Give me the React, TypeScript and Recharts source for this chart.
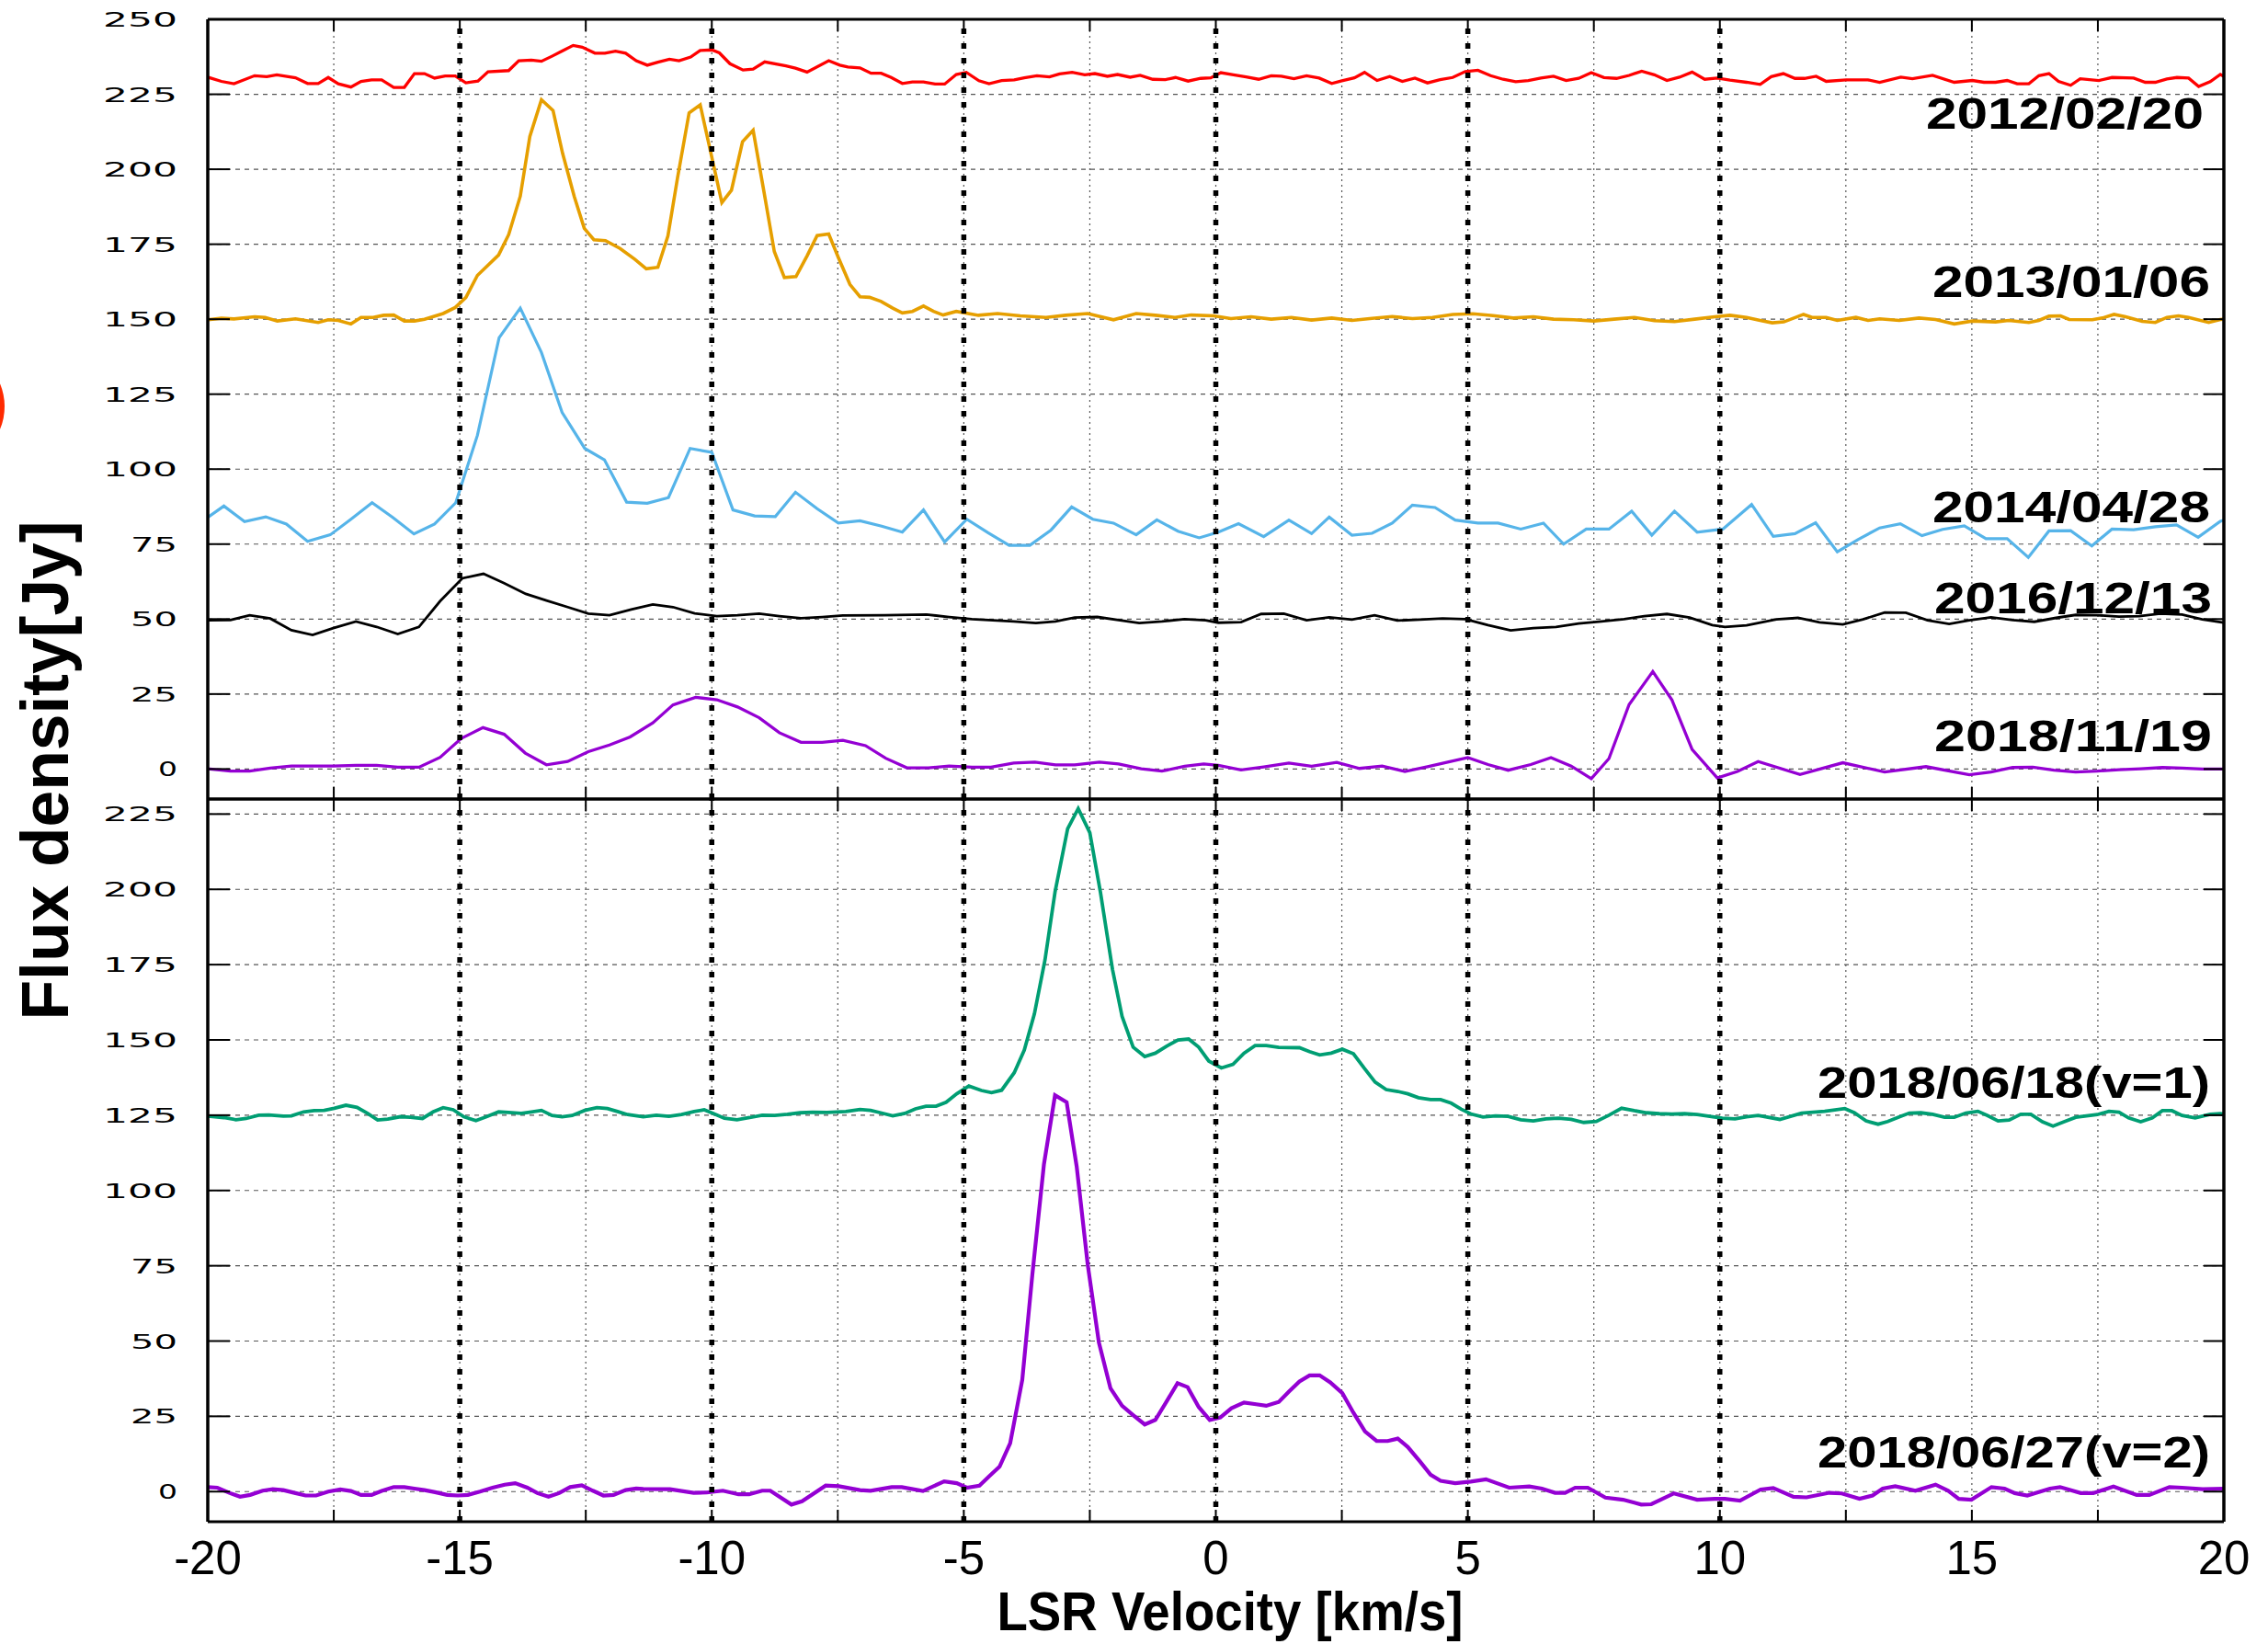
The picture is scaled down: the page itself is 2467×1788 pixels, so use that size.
import { LineChart, Line, XAxis, YAxis, CartesianGrid, ReferenceLine } from "recharts"

type Pt = [number, number]

// velocity [km/s], flux density [Jy]
const velocityTicks = [-20, -17.5, -15, -12.5, -10, -7.5, -5, -2.5, 0, 2.5, 5, 7.5, 10, 12.5, 15, 17.5, 20]
const upperFluxTicks = [0, 25, 50, 75, 100, 125, 150, 175, 200, 225, 250]
const lowerFluxTicks = [0, 25, 50, 75, 100, 125, 150, 175, 200, 225]
const markerVelocities = [-15, -10, -5, 0, 5, 10]

const flux20120220: Pt[] = [
  [-20, 230.7], [-19.73, 229.3], [-19.48, 228.5], [-19.07, 231.2], [-18.83, 230.9], [-18.63, 231.5], [-18.26, 230.5],
  [-18.02, 228.6], [-17.81, 228.6], [-17.61, 230.6], [-17.41, 228.5], [-17.16, 227.4], [-16.96, 229.3], [-16.75, 229.8],
  [-16.55, 229.8], [-16.31, 227.3], [-16.1, 227.3], [-15.9, 231.9], [-15.7, 231.9], [-15.5, 230.4], [-15.29, 231.1],
  [-15.09, 231.1], [-14.88, 228.8], [-14.64, 229.4], [-14.44, 232.5], [-14.03, 232.9], [-13.83, 236.2], [-13.58, 236.4],
  [-13.38, 236.0], [-13.17, 237.7], [-12.97, 239.4], [-12.75, 241.3], [-12.57, 240.7], [-12.32, 238.7], [-12.12, 238.7],
  [-11.91, 239.4], [-11.71, 238.7], [-11.5, 236.2], [-11.28, 234.7], [-11.07, 235.7], [-10.84, 236.7], [-10.65, 236.2],
  [-10.42, 237.4], [-10.23, 239.6], [-10.0, 239.8], [-9.85, 238.8], [-9.64, 235.2], [-9.38, 233.1], [-9.18, 233.4],
  [-8.95, 235.8], [-8.53, 234.5], [-8.34, 233.7], [-8.11, 232.4], [-7.68, 236.2], [-7.46, 234.7], [-7.3, 234.1],
  [-7.06, 233.8], [-6.84, 232.0], [-6.64, 232.0], [-6.44, 230.6], [-6.22, 228.6], [-6.02, 229.1], [-5.8, 229.1],
  [-5.57, 228.4], [-5.38, 228.4], [-5.15, 231.6], [-4.95, 232.3], [-4.7, 229.5], [-4.5, 228.5], [-4.25, 229.6],
  [-4.0, 229.8], [-3.8, 230.5], [-3.55, 231.2], [-3.3, 230.8], [-3.1, 231.8], [-2.85, 232.3], [-2.6, 231.5],
  [-2.4, 231.9], [-2.15, 231.0], [-1.95, 231.6], [-1.7, 230.7], [-1.5, 231.3], [-1.25, 230.0], [-1.0, 229.9],
  [-0.8, 230.6], [-0.55, 229.4], [-0.3, 230.3], [-0.1, 230.5], [0.1, 232.2], [0.35, 231.5], [0.6, 230.8],
  [0.85, 230.0], [1.1, 231.2], [1.3, 231.0], [1.55, 230.2], [1.8, 231.2], [2.05, 230.4], [2.3, 228.6], [2.5, 229.5],
  [2.75, 230.5], [2.95, 232.3], [3.2, 229.6], [3.45, 230.9], [3.7, 229.3], [3.95, 230.4], [4.2, 228.8], [4.45, 229.9],
  [4.7, 230.6], [4.95, 232.6], [5.2, 233.0], [5.45, 231.2], [5.7, 230.0], [5.95, 229.2], [6.2, 229.6], [6.45, 230.4],
  [6.7, 231.0], [6.95, 229.6], [7.2, 230.3], [7.45, 232.2], [7.7, 230.6], [7.95, 230.3], [8.2, 231.3], [8.45, 232.7],
  [8.7, 231.5], [8.95, 229.6], [9.2, 230.7], [9.45, 232.4], [9.7, 230.0], [9.95, 230.4], [10.2, 229.7], [10.53, 229.0],
  [10.8, 228.3], [11.02, 230.9], [11.26, 231.9], [11.49, 230.3], [11.68, 230.3], [11.91, 231.0], [12.11, 229.3],
  [12.51, 229.8], [12.94, 229.8], [13.17, 229.0], [13.59, 230.7], [13.82, 230.2], [14.22, 231.3], [14.65, 229.0],
  [15.01, 229.6], [15.24, 229.0], [15.47, 229.0], [15.7, 229.6], [15.9, 228.5], [16.13, 228.5], [16.33, 231.2],
  [16.53, 231.9], [16.72, 229.3], [16.96, 228.0], [17.15, 230.2], [17.52, 229.6], [17.78, 230.6], [18.21, 230.4],
  [18.44, 229.0], [18.64, 229.0], [18.87, 230.1], [19.07, 230.6], [19.3, 230.4], [19.5, 227.6], [19.73, 229.2],
  [19.93, 231.6], [20, 231.0],
]

const flux20130106: Pt[] = [
  [-20, 149.8], [-19.73, 150.3], [-19.48, 150.1], [-19.07, 150.8], [-18.86, 150.6], [-18.62, 149.4], [-18.26, 150.1],
  [-17.81, 148.9], [-17.61, 149.8], [-17.41, 149.6], [-17.16, 148.4], [-16.96, 150.6], [-16.72, 150.6], [-16.51, 151.3],
  [-16.31, 151.4], [-16.1, 149.4], [-15.9, 149.4], [-15.7, 150.0], [-15.33, 151.9], [-15.09, 153.9], [-14.88, 157.2],
  [-14.65, 164.6], [-14.23, 171.4], [-14.03, 178.2], [-13.8, 191.0], [-13.61, 210.9], [-13.38, 223.2], [-13.15, 219.6],
  [-12.96, 205.3], [-12.73, 191.0], [-12.53, 180.3], [-12.34, 176.5], [-12.11, 176.2], [-11.82, 173.6], [-11.53, 170.0],
  [-11.3, 166.8], [-11.07, 167.3], [-10.87, 177.8], [-10.68, 197.1], [-10.45, 218.8], [-10.23, 221.5], [-9.8, 188.9],
  [-9.61, 193.0], [-9.39, 209.2], [-9.18, 213.0], [-8.96, 192.0], [-8.76, 172.6], [-8.56, 163.9], [-8.33, 164.2],
  [-8.11, 171.1], [-7.91, 177.9], [-7.68, 178.4], [-7.49, 170.6], [-7.26, 161.6], [-7.06, 157.5], [-6.87, 157.3],
  [-6.64, 155.9], [-6.41, 153.7], [-6.22, 152.1], [-6.02, 152.6], [-5.8, 154.4], [-5.6, 152.6], [-5.41, 151.4],
  [-5.15, 152.6], [-4.71, 151.3], [-4.33, 151.9], [-3.88, 151.1], [-3.37, 150.6], [-2.98, 151.3], [-2.54, 151.9],
  [-2.03, 149.8], [-1.58, 151.9], [-1.2, 151.3], [-0.81, 150.6], [-0.49, 151.4], [-0.04, 151.1], [0.3, 150.2],
  [0.7, 150.8], [1.1, 150.0], [1.5, 150.6], [1.9, 149.7], [2.3, 150.4], [2.7, 149.6], [3.1, 150.3], [3.5, 150.9],
  [3.9, 150.2], [4.3, 150.6], [4.7, 151.6], [5.1, 151.8], [5.5, 151.2], [5.9, 150.4], [6.3, 150.8], [6.7, 150.0],
  [7.1, 149.8], [7.5, 149.4], [7.9, 150.0], [8.3, 150.6], [8.7, 149.5], [9.1, 149.2], [9.5, 150.0], [9.9, 150.8],
  [10.2, 151.3], [10.53, 150.6], [10.8, 149.6], [11.04, 148.8], [11.27, 149.1], [11.66, 151.6], [11.83, 150.6],
  [12.11, 150.6], [12.33, 149.6], [12.7, 150.6], [12.94, 149.6], [13.17, 150.1], [13.56, 149.6], [13.95, 150.4],
  [14.28, 149.9], [14.65, 148.4], [15.01, 149.4], [15.47, 149.1], [15.73, 149.6], [16.13, 148.9], [16.33, 149.6],
  [16.53, 151.0], [16.76, 151.1], [16.93, 149.9], [17.39, 149.8], [17.59, 150.4], [17.82, 151.6], [18.05, 150.8],
  [18.38, 149.3], [18.64, 148.9], [18.87, 150.6], [19.1, 151.1], [19.3, 150.6], [19.7, 148.9], [19.93, 149.9], [20, 150.0],
]

const flux20140428: Pt[] = [
  [-20, 83.9], [-19.68, 87.7], [-19.27, 82.5], [-18.85, 84.1], [-18.44, 81.7], [-18.02, 75.9], [-17.57, 78.1],
  [-17.16, 83.3], [-16.74, 88.8], [-16.33, 83.9], [-15.91, 78.4], [-15.5, 81.7], [-15.08, 88.8], [-14.65, 111.3],
  [-14.22, 143.8], [-13.8, 153.7], [-13.38, 138.9], [-12.97, 118.9], [-12.52, 106.9], [-12.13, 103.1], [-11.69, 89.0],
  [-11.28, 88.6], [-10.86, 90.5], [-10.43, 106.9], [-10.0, 105.6], [-9.58, 86.4], [-9.15, 84.4], [-8.74, 84.2],
  [-8.34, 92.3], [-7.91, 86.8], [-7.49, 82.0], [-7.06, 82.8], [-6.63, 81.0], [-6.22, 79.0], [-5.8, 86.4], [-5.38, 75.7],
  [-4.94, 83.3], [-4.52, 78.8], [-4.1, 74.6], [-3.69, 74.6], [-3.27, 79.7], [-2.86, 87.4], [-2.44, 83.3], [-2.03, 82.0],
  [-1.58, 78.1], [-1.17, 83.1], [-0.75, 79.3], [-0.33, 77.1], [0.05, 79.0], [0.45, 81.8], [0.95, 77.5], [1.45, 83.0],
  [1.9, 78.5], [2.25, 84.0], [2.7, 78.0], [3.1, 78.6], [3.5, 82.0], [3.9, 88.0], [4.35, 87.2], [4.75, 83.0], [5.2, 82.0],
  [5.6, 82.0], [6.05, 80.0], [6.5, 82.0], [6.9, 75.0], [7.35, 80.0], [7.8, 80.0], [8.25, 86.0], [8.65, 78.0], [9.1, 86.0],
  [9.55, 79.0], [10.06, 80.0], [10.63, 88.2], [11.06, 77.6], [11.49, 78.5], [11.9, 82.1], [12.33, 72.4], [12.74, 76.5],
  [13.17, 80.4], [13.58, 81.8], [14.01, 77.8], [14.42, 79.9], [14.85, 81.1], [15.28, 76.8], [15.7, 76.8], [16.12, 70.6],
  [16.53, 79.4], [16.96, 79.5], [17.38, 74.4], [17.78, 80.0], [18.21, 79.8], [18.64, 80.8], [19.06, 81.4], [19.49, 77.3],
  [19.93, 82.6], [20, 83.0],
]

const flux20161213: Pt[] = [
  [-20, 49.6], [-19.55, 49.7], [-19.17, 51.3], [-18.76, 50.2], [-18.34, 46.3], [-17.92, 44.7], [-17.51, 47.0],
  [-17.06, 49.2], [-16.65, 47.4], [-16.23, 45.0], [-15.81, 47.4], [-15.39, 56.0], [-14.95, 63.6], [-14.53, 65.1],
  [-14.12, 62.0], [-13.69, 58.4], [-13.28, 56.2], [-12.86, 54.0], [-12.45, 51.8], [-12.03, 51.3], [-11.6, 53.2],
  [-11.17, 54.9], [-10.77, 54.0], [-10.34, 51.9], [-9.9, 51.0], [-9.49, 51.3], [-9.06, 51.8], [-8.66, 51.0],
  [-8.23, 50.3], [-7.81, 50.7], [-7.4, 51.2], [-6.57, 51.3], [-5.74, 51.5], [-5.29, 50.7], [-4.84, 50.0], [-4.01, 49.2],
  [-3.57, 48.7], [-3.18, 49.2], [-2.8, 50.5], [-2.35, 50.7], [-1.9, 49.6], [-1.52, 48.7], [-1.07, 49.2], [-0.62, 50.0],
  [-0.2, 49.6], [0.05, 48.8], [0.5, 49.0], [0.9, 51.7], [1.35, 51.8], [1.8, 49.6], [2.25, 50.6], [2.7, 49.8],
  [3.15, 51.3], [3.6, 49.5], [4.05, 49.8], [4.5, 50.2], [4.95, 50.0], [5.4, 48.0], [5.85, 46.2], [6.3, 47.0],
  [6.75, 47.4], [7.2, 48.5], [7.65, 49.2], [8.1, 50.0], [8.5, 51.0], [8.95, 51.7], [9.4, 50.5], [9.85, 48.0],
  [10.1, 47.4], [10.53, 47.9], [11.12, 49.9], [11.55, 50.4], [11.98, 48.9], [12.44, 48.2], [12.84, 49.9], [13.27, 52.2],
  [13.69, 52.1], [14.12, 49.6], [14.55, 48.4], [14.95, 49.6], [15.38, 50.6], [15.81, 49.7], [16.24, 49.1], [16.67, 50.4],
  [17.06, 51.4], [17.49, 51.3], [17.92, 50.8], [18.32, 51.0], [18.74, 51.8], [19.17, 51.5], [19.57, 49.9], [19.96, 48.9],
  [20, 48.8],
]

const flux20181119: Pt[] = [
  [-20, 0.1], [-19.55, -0.7], [-19.17, -0.7], [-18.76, 0.3], [-18.34, 1.0], [-17.89, 1.0], [-17.51, 1.0], [-17.06, 1.2],
  [-16.65, 1.2], [-16.23, 0.6], [-15.81, 0.6], [-15.39, 3.9], [-14.97, 10.2], [-14.54, 13.8], [-14.12, 11.6],
  [-13.7, 5.3], [-13.28, 1.4], [-12.86, 2.5], [-12.45, 5.8], [-12.03, 8.0], [-11.62, 10.7], [-11.17, 15.4],
  [-10.77, 21.4], [-10.32, 23.9], [-9.9, 23.1], [-9.49, 20.7], [-9.06, 17.1], [-8.66, 12.1], [-8.23, 8.9], [-7.81, 8.9],
  [-7.4, 9.6], [-6.95, 7.8], [-6.55, 3.6], [-6.13, 0.4], [-5.7, 0.4], [-5.29, 1.0], [-4.84, 0.6], [-4.46, 0.6],
  [-4.01, 2.0], [-3.59, 2.3], [-3.18, 1.4], [-2.8, 1.4], [-2.31, 2.3], [-1.93, 1.7], [-1.48, 0.1], [-1.07, -0.7],
  [-0.62, 0.9], [-0.24, 1.7], [0.05, 1.2], [0.5, -0.3], [0.95, 0.7], [1.45, 2.0], [1.9, 0.9], [2.4, 2.2], [2.85, 0.2],
  [3.3, 1.0], [3.75, -0.8], [4.2, 0.8], [4.6, 2.3], [5.0, 3.8], [5.4, 1.5], [5.8, -0.4], [6.25, 1.5], [6.65, 3.8],
  [7.05, 1.0], [7.45, -3.2], [7.8, 3.5], [8.2, 21.5], [8.67, 32.5], [9.05, 23.0], [9.45, 6.5], [9.95, -3.0],
  [10.35, -0.8], [10.76, 2.5], [11.59, -1.8], [12.44, 2.1], [13.27, -1.0], [14.09, 0.8], [14.95, -1.9], [15.38, -1.0],
  [15.81, 0.5], [16.21, 0.6], [16.63, -0.4], [17.06, -1.0], [17.49, -0.7], [17.92, -0.2], [18.35, 0.1], [18.78, 0.5],
  [19.17, 0.3], [19.57, 0.0], [20, 0.0],
]

const flux20180618v1: Pt[] = [
  [-20, 124.7], [-19.68, 124.2], [-19.44, 123.5], [-19.24, 123.9], [-18.99, 125.0], [-18.79, 125.1], [-18.5, 124.7],
  [-18.34, 124.8], [-18.1, 126.1], [-17.89, 126.5], [-17.69, 126.6], [-17.49, 127.3], [-17.26, 128.3], [-17.04, 127.6],
  [-16.83, 125.6], [-16.63, 123.4], [-16.43, 123.7], [-16.18, 124.5], [-15.98, 124.3], [-15.74, 123.9], [-15.53, 126.1],
  [-15.33, 127.5], [-15.13, 126.8], [-14.92, 124.5], [-14.68, 123.2], [-14.47, 124.5], [-14.23, 126.1], [-14.03, 125.9],
  [-13.78, 125.6], [-13.58, 126.1], [-13.38, 126.6], [-13.17, 124.9], [-12.97, 124.5], [-12.77, 124.9], [-12.52, 126.6],
  [-12.28, 127.5], [-12.07, 127.2], [-11.87, 126.2], [-11.67, 125.2], [-11.36, 124.5], [-11.1, 125.0], [-10.85, 124.6],
  [-10.6, 125.2], [-10.35, 126.2], [-10.15, 126.8], [-9.95, 125.4], [-9.75, 124.0], [-9.5, 123.5], [-9.25, 124.2],
  [-9.0, 125.0], [-8.75, 124.9], [-8.5, 125.3], [-8.25, 125.8], [-8.0, 126.0], [-7.71, 125.9], [-7.34, 126.2],
  [-7.06, 126.9], [-6.85, 126.6], [-6.65, 125.8], [-6.41, 124.8], [-6.17, 125.6], [-5.96, 127.1], [-5.75, 128.0],
  [-5.55, 128.0], [-5.35, 129.3], [-5.14, 132.1], [-4.9, 134.7], [-4.65, 133.2], [-4.45, 132.5], [-4.25, 133.3],
  [-4.0, 139.1], [-3.8, 146.6], [-3.6, 158.6], [-3.39, 176.5], [-3.19, 199.1], [-2.94, 220.1], [-2.73, 226.8],
  [-2.5, 218.8], [-2.29, 199.1], [-2.05, 173.4], [-1.86, 157.8], [-1.64, 147.6], [-1.41, 144.5], [-1.2, 145.6],
  [-0.97, 148.0], [-0.75, 150.0], [-0.54, 150.3], [-0.34, 147.6], [-0.14, 143.0], [0.11, 140.7], [0.34, 141.9],
  [0.56, 145.6], [0.78, 148.1], [1.0, 148.1], [1.25, 147.5], [1.66, 147.4], [1.86, 146.1], [2.06, 145.0], [2.29, 145.6],
  [2.51, 146.9], [2.73, 145.4], [2.94, 140.7], [3.16, 136.0], [3.38, 133.5], [3.61, 132.9], [3.81, 132.1], [4.02, 130.8],
  [4.26, 130.2], [4.46, 130.2], [4.67, 129.0], [4.87, 127.0], [5.06, 125.4], [5.3, 124.4], [5.55, 124.8], [5.8, 124.6],
  [6.05, 123.5], [6.3, 123.1], [6.55, 123.8], [6.8, 124.0], [7.05, 123.6], [7.3, 122.6], [7.55, 122.9], [7.8, 125.0],
  [8.05, 127.3], [8.3, 126.5], [8.55, 125.8], [8.8, 125.5], [9.05, 125.4], [9.3, 125.5], [9.55, 125.2], [9.8, 124.6],
  [10.05, 124.0], [10.3, 123.8], [10.53, 124.5], [10.76, 124.9], [11.19, 123.6], [11.62, 125.7], [12.08, 126.3],
  [12.48, 127.2], [12.67, 125.8], [12.9, 123.1], [13.14, 122.0], [13.33, 122.9], [13.57, 124.5], [13.76, 125.7],
  [13.99, 125.8], [14.22, 125.3], [14.46, 124.3], [14.65, 124.3], [14.88, 125.7], [15.12, 126.3], [15.31, 124.9],
  [15.52, 123.1], [15.74, 123.4], [15.97, 125.3], [16.17, 125.3], [16.4, 122.8], [16.61, 121.4], [16.83, 122.8],
  [17.06, 124.3], [17.49, 125.2], [17.72, 126.3], [17.92, 126.0], [18.11, 124.1], [18.35, 122.8], [18.58, 124.1],
  [18.78, 126.5], [18.97, 126.5], [19.17, 124.9], [19.43, 124.1], [19.73, 125.3], [19.93, 125.5], [20, 125.4],
]

const flux20180627v2: Pt[] = [
  [-20, 1.5], [-19.81, 1.3], [-19.56, -0.5], [-19.36, -1.7], [-19.16, -1.1], [-18.91, 0.3], [-18.71, 0.8], [-18.5, 0.5],
  [-18.26, -0.5], [-18.06, -1.3], [-17.85, -1.3], [-17.61, 0.0], [-17.37, 0.7], [-17.16, 0.2], [-16.96, -1.1],
  [-16.75, -1.1], [-16.55, 0.2], [-16.31, 1.5], [-16.1, 1.5], [-15.9, 1.0], [-15.7, 0.5], [-15.49, -0.2], [-15.25, -1.1],
  [-15.04, -1.3], [-14.84, -1.1], [-14.6, 0.0], [-14.35, 1.3], [-14.11, 2.3], [-13.9, 2.8], [-13.66, 1.3], [-13.46, -0.5],
  [-13.24, -1.7], [-13.03, -0.5], [-12.81, 1.5], [-12.58, 2.1], [-12.36, 0.3], [-12.15, -1.3], [-11.95, -1.1],
  [-11.71, 0.5], [-11.5, 1.0], [-11.36, 0.9], [-10.83, 0.8], [-10.36, -0.4], [-10.1, -0.3], [-9.78, 0.3], [-9.47, -0.9],
  [-9.26, -0.9], [-9.0, 0.3], [-8.84, 0.3], [-8.42, -4.3], [-8.21, -3.2], [-7.74, 2.0], [-7.48, 1.8], [-7.06, 0.5],
  [-6.85, 0.3], [-6.43, 1.5], [-6.23, 1.5], [-5.81, 0.2], [-5.39, 3.4], [-5.14, 2.8], [-4.94, 1.3], [-4.69, 2.0],
  [-4.49, 5.2], [-4.29, 8.3], [-4.08, 16.1], [-3.84, 37.1], [-3.64, 72.1], [-3.41, 108.7], [-3.19, 131.6], [-2.96, 129.3],
  [-2.76, 107.9], [-2.54, 75.2], [-2.32, 49.5], [-2.09, 34.3], [-1.86, 28.5], [-1.64, 25.4], [-1.41, 22.3], [-1.2, 23.8],
  [-0.97, 30.1], [-0.76, 36.0], [-0.56, 34.7], [-0.34, 28.1], [-0.12, 23.8], [0.09, 24.6], [0.31, 27.7], [0.56, 29.6],
  [0.8, 29.0], [1.0, 28.5], [1.25, 29.8], [1.45, 33.2], [1.66, 36.6], [1.86, 38.6], [2.06, 38.6], [2.27, 36.3],
  [2.51, 32.7], [2.73, 26.2], [2.96, 20.0], [3.19, 16.8], [3.41, 16.8], [3.61, 17.6], [3.81, 14.8], [4.06, 9.8],
  [4.26, 5.6], [4.46, 3.6], [4.75, 2.8], [5.06, 3.3], [5.36, 4.1], [5.82, 1.3], [6.22, 1.7], [6.47, 1.0], [6.73, -0.4],
  [6.93, -0.4], [7.13, 1.3], [7.38, 1.3], [7.73, -2.0], [8.08, -2.7], [8.44, -4.3], [8.64, -4.2], [9.09, -0.6],
  [9.55, -2.7], [9.9, -2.4], [10.1, -2.4], [10.4, -3.0], [10.81, 0.7], [11.06, 1.2], [11.46, -1.7], [11.72, -1.9],
  [12.17, -0.4], [12.42, -0.6], [12.77, -2.4], [13.03, -1.3], [13.23, 1.0], [13.48, 1.8], [13.88, 0.3], [14.28, 2.3],
  [14.53, 0.3], [14.74, -2.4], [14.99, -2.7], [15.39, 1.5], [15.65, 1.0], [15.85, -0.5], [16.1, -1.3], [16.55, 1.0],
  [16.75, 1.5], [17.16, -0.5], [17.41, -0.5], [17.81, 1.7], [18.27, -1.1], [18.52, -1.1], [18.92, 1.5], [19.17, 1.3],
  [19.58, 0.8], [20, 1.0],
]

const toPoints = (pts: Pt[]) => pts.map(([v, f]) => ({ v, f }))

const upperSeries = [
  { name: "2012/02/20", color: "#ff0000", width: 3.3, points: toPoints(flux20120220) },
  { name: "2013/01/06", color: "#e69f00", width: 3.6, points: toPoints(flux20130106) },
  { name: "2014/04/28", color: "#56b4e9", width: 3.2, points: toPoints(flux20140428) },
  { name: "2016/12/13", color: "#000000", width: 2.8, points: toPoints(flux20161213) },
  { name: "2018/11/19", color: "#9400d3", width: 3.3, points: toPoints(flux20181119) },
]

const lowerSeries = [
  { name: "2018/06/18(v=1)", color: "#009e73", width: 3.8, points: toPoints(flux20180618v1) },
  { name: "2018/06/27(v=2)", color: "#9400d3", width: 4.2, points: toPoints(flux20180627v2) },
]

// page layout (px)
const W = 2467
const H = 1788
const PLOT_L = 226
const PLOT_R = 2419
const PLOT_W = PLOT_R - PLOT_L
const UPPER_TOP = 21
const SPLIT = 869
const LOWER_BOTTOM = 1655

// right edge and baseline of each date label
const labelPos: Record<string, { x: number; y: number; len: number }> = {
  "2012/02/20": { x: 2397, y: 140, len: 302 },
  "2013/01/06": { x: 2404, y: 323, len: 302 },
  "2014/04/28": { x: 2404, y: 568, len: 302 },
  "2016/12/13": { x: 2406, y: 667, len: 302 },
  "2018/11/19": { x: 2406, y: 817, len: 302 },
  "2018/06/18(v=1)": { x: 2404, y: 1194, len: 427 },
  "2018/06/27(v=2)": { x: 2404, y: 1596, len: 427 },
}

const YTick = (props: any) => {
  const { x, y, payload } = props
  const s = String(payload.value)
  return (
    <g>
      <line x1={x} x2={x + 24} y1={y} y2={y} stroke="#000" strokeWidth={2} />
      <line x1={x + PLOT_W - 22} x2={x + PLOT_W} y1={y} y2={y} stroke="#000" strokeWidth={2} />
      <text
        x={x - 33}
        y={y + 8}
        textAnchor="end"
        fontFamily="DejaVu Sans"
        fontSize={21}
        textLength={30 * s.length - 9}
        lengthAdjust="spacingAndGlyphs"
        fill="#000"
      >
        {s}
      </text>
    </g>
  )
}

const makeXTick = (panelH: number, withLabels: boolean) => (props: any) => {
  const { x, y, payload } = props
  const v = payload.value as number
  return (
    <g>
      <line x1={x} x2={x} y1={y} y2={y - 13} stroke="#000" strokeWidth={2} />
      <line x1={x} x2={x} y1={y - panelH} y2={y - panelH + 13} stroke="#000" strokeWidth={2} />
      {withLabels && v % 5 === 0 && (
        <text x={x} y={y + 57} textAnchor="middle" fontFamily="Liberation Sans" fontSize={51} fill="#000">
          {v}
        </text>
      )}
    </g>
  )
}

const upperTick = makeXTick(SPLIT - UPPER_TOP, false)
const lowerTick = makeXTick(LOWER_BOTTOM - SPLIT, true)

const Panel = ({
  series,
  domain,
  yTicks,
  height,
  margin,
  xTick,
}: {
  series: { name: string; color: string; width: number; points: { v: number; f: number }[] }[]
  domain: [number, number]
  yTicks: number[]
  height: number
  margin: { top: number; right: number; bottom: number; left: number }
  xTick: (p: any) => any
}) => (
  <LineChart width={W} height={height} margin={margin}>
    <CartesianGrid horizontal vertical={false} stroke="#555" strokeWidth={1.2} strokeDasharray="5 5" />
    <CartesianGrid vertical horizontal={false} stroke="#555" strokeWidth={1.2} strokeDasharray="2 4" />
    {/* 1px axis boxes: zero-sized axes are not drawn at all */}
    <XAxis
      type="number"
      dataKey="v"
      domain={[-20, 20]}
      ticks={velocityTicks}
      interval={0}
      height={1}
      tickSize={0}
      tickMargin={0}
      axisLine={false}
      tickLine={false}
      tick={xTick}
      allowDataOverflow
    />
    <YAxis
      type="number"
      domain={domain}
      ticks={yTicks}
      interval={0}
      width={1}
      tickSize={0}
      tickMargin={0}
      axisLine={false}
      tickLine={false}
      tick={YTick}
      allowDataOverflow
    />
    {series.map((s) => (
      <Line
        key={s.name}
        data={s.points}
        dataKey="f"
        type="linear"
        stroke={s.color}
        strokeWidth={s.width}
        dot={false}
        activeDot={false}
        isAnimationActive={false}
      />
    ))}
    {markerVelocities.map((v) => (
      <ReferenceLine key={v} x={v} stroke="#000" strokeWidth={5.5} strokeDasharray="6 10" />
    ))}
    <ReferenceLine x={-20} stroke="#000" strokeWidth={3.5} />
    <ReferenceLine x={20} stroke="#000" strokeWidth={3.5} />
    <ReferenceLine y={domain[0]} stroke="#000" strokeWidth={3} />
    <ReferenceLine y={domain[1]} stroke="#000" strokeWidth={3} />
  </LineChart>
)

export default function App() {
  return (
    <div style={{ position: "absolute", left: 0, top: 0, width: W, height: H, background: "#fff", overflow: "hidden" }}>
      <div style={{ position: "absolute", left: 0, top: 0 }}>
        <Panel
          series={upperSeries}
          domain={[-10, 250]}
          yTicks={upperFluxTicks}
          height={SPLIT + 20}
          margin={{ top: UPPER_TOP, right: W - PLOT_R, bottom: 19, left: PLOT_L - 1 }}
          xTick={upperTick}
        />
      </div>
      <div style={{ position: "absolute", left: 0, top: 0 }}>
        <Panel
          series={lowerSeries}
          domain={[-10, 230]}
          yTicks={lowerFluxTicks}
          height={H}
          margin={{ top: SPLIT, right: W - PLOT_R, bottom: H - LOWER_BOTTOM - 1, left: PLOT_L - 1 }}
          xTick={lowerTick}
        />
      </div>
      <svg width={W} height={H} style={{ position: "absolute", left: 0, top: 0, pointerEvents: "none" }}>
        <circle cx={-60} cy={442} r={65} fill="#ff2a00" />
        {[...upperSeries, ...lowerSeries].map((s) => {
          const p = labelPos[s.name]
          return (
            <text
              key={s.name}
              x={p.x}
              y={p.y}
              textAnchor="end"
              fontFamily="Liberation Sans"
              fontWeight="bold"
              fontSize={49}
              textLength={p.len}
              lengthAdjust="spacingAndGlyphs"
              fill="#000"
            >
              {s.name}
            </text>
          )
        })}
        <text
          x={74}
          y={838}
          transform="rotate(-90 74 838)"
          textAnchor="middle"
          fontFamily="Liberation Sans"
          fontWeight="bold"
          fontSize={72}
          textLength={543}
          lengthAdjust="spacingAndGlyphs"
          fill="#000"
        >
          Flux density[Jy]
        </text>
        <text
          x={1338}
          y={1773}
          textAnchor="middle"
          fontFamily="Liberation Sans"
          fontWeight="bold"
          fontSize={60}
          textLength={507}
          lengthAdjust="spacingAndGlyphs"
          fill="#000"
        >
          LSR Velocity [km/s]
        </text>
      </svg>
    </div>
  )
}
